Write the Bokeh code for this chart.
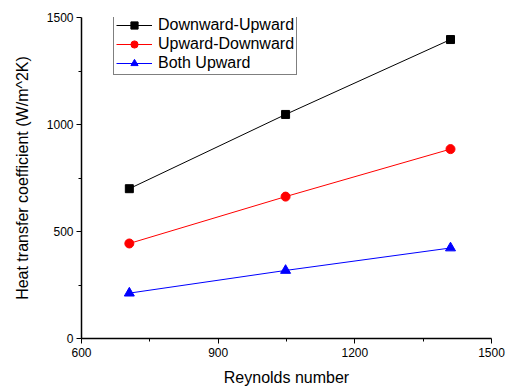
from bokeh.plotting import figure
from bokeh.models import Legend, LegendItem, Range1d, FixedTicker
from bokeh.embed import file_html
from bokeh.resources import INLINE

# Reynolds number at each test point
reynolds = [705, 1048, 1410]

# Heat transfer coefficient (W/m^2K) for each flow arrangement
downward_upward = [700, 1047, 1397]
upward_downward = [444, 663, 885]
both_upward = [212, 318, 423]

x_ticks = [600, 900, 1200, 1500]
y_ticks = [0, 500, 1000, 1500]

FONT = "Liberation Sans"

p = figure(width=507, height=388, output_backend="svg", toolbar_location=None,
           x_range=Range1d(600, 1500), y_range=Range1d(0, 1500),
           min_border_left=81, min_border_right=16, min_border_top=17, min_border_bottom=50)

p.xgrid.visible = False
p.ygrid.visible = False
p.outline_line_color = None
p.background_fill_color = "white"
p.border_fill_color = "white"

# Lines and markers for each series
l1 = p.line(reynolds, downward_upward, line_color="black", line_width=1)
m1 = p.scatter(reynolds, downward_upward, marker="square", size=8, color="black")
l2 = p.line(reynolds, upward_downward, line_color="red", line_width=1)
m2 = p.scatter(reynolds, upward_downward, marker="circle", size=9, color="red")
l3 = p.line(reynolds, both_upward, line_color="blue", line_width=1)
m3 = p.scatter(reynolds, both_upward, marker="triangle", size=10, color="blue")

for ax, ticks, minor in ((p.xaxis[0], x_ticks, [750, 1050, 1350]),
                         (p.yaxis[0], y_ticks, [250, 750, 1250])):
    ax.ticker = FixedTicker(ticks=ticks, minor_ticks=minor)
    ax.axis_line_color = "black"
    ax.axis_line_width = 1.5
    ax.major_tick_line_color = "black"
    ax.minor_tick_line_color = "black"
    ax.major_tick_out = 5
    ax.major_tick_in = 0
    ax.minor_tick_out = 3
    ax.minor_tick_in = 0
    ax.major_label_text_font = FONT
    ax.major_label_text_font_size = "12px"
    ax.major_label_text_color = "black"
    ax.axis_label_text_font = FONT
    ax.axis_label_text_font_size = "16px"
    ax.axis_label_text_font_style = "normal"
    ax.axis_label_text_color = "black"

p.xaxis.axis_label = "Reynolds number"
p.yaxis.axis_label = "Heat transfer coefficient (W/m^2K)"
p.xaxis.major_label_standoff = 4
p.xaxis.axis_label_standoff = 9
p.yaxis.major_label_standoff = 3
p.yaxis.axis_label_standoff = 13

legend = Legend(items=[
    LegendItem(label="Downward-Upward", renderers=[l1, m1]),
    LegendItem(label="Upward-Downward", renderers=[l2, m2]),
    LegendItem(label="Both Upward", renderers=[l3, m3]),
], location=(32, 263))
legend.label_text_font = FONT
legend.label_text_font_size = "16px"
legend.label_text_color = "black"
legend.glyph_width = 36
legend.glyph_height = 18
legend.label_height = 18
legend.label_standoff = 6
legend.spacing = 1
legend.padding = 2
legend.margin = 0
legend.border_line_color = "black"
legend.border_line_width = 1
legend.background_fill_alpha = 1
p.add_layout(legend, "center")

open("out.html", "w").write(file_html(p, INLINE))
